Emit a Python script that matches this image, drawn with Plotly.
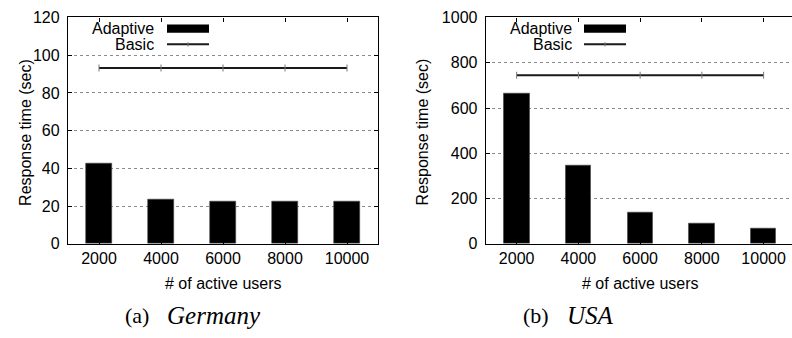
import plotly.graph_objects as go

# Response time measurements per number of active users
users = ["2000", "4000", "6000", "8000", "10000"]
germany_adaptive = [42.4, 23.7, 22.5, 22.5, 22.5]
germany_basic = [93.2, 93.2, 93.2, 93.2, 93.2]
usa_adaptive = [663, 348, 140, 88, 69]
usa_basic = [745, 745, 745, 745, 745]
germany_yticks = [0, 20, 40, 60, 80, 100, 120]
usa_yticks = [0, 200, 400, 600, 800, 1000]

W, H = 792, 338
SANS = "Liberation Sans, Arial, Helvetica, sans-serif"
SERIF = "Liberation Serif, Times New Roman, serif"


def px(x):
    """Horizontal pixel position -> paper fraction."""
    return x / W


def py(y):
    """Vertical pixel position (from top) -> paper fraction."""
    return 1 - y / H


fig = go.Figure()

panels = [
    dict(xa="x", ya="y", adaptive=germany_adaptive, basic=germany_basic),
    dict(xa="x2", ya="y2", adaptive=usa_adaptive, basic=usa_basic),
]
for p in panels:
    fig.add_trace(go.Bar(
        x=users, y=p["adaptive"], xaxis=p["xa"], yaxis=p["ya"], name="Adaptive",
        width=0.41, marker=dict(color="black", line=dict(color="#444", width=0.6)),
        showlegend=False, hoverinfo="x+y",
    ))
    fig.add_trace(go.Scatter(
        x=users, y=p["basic"], xaxis=p["xa"], yaxis=p["ya"], name="Basic",
        mode="lines+markers",
        line=dict(color="#1a1a1a", width=2),
        marker=dict(symbol="line-ns", size=5, line=dict(color="#777", width=1)),
        showlegend=False,
    ))

axis_common = dict(
    showline=True, linecolor="black", linewidth=1.3,
    ticks="inside", ticklen=4, tickcolor="black", tickwidth=1,
    tickfont=dict(family=SANS, size=16, color="black"),
    zeroline=False,
)
grid = dict(showgrid=True, gridcolor="#8a8a8a", griddash="dot", gridwidth=1)

ybot, ytop = 248.3, 10
fig.update_layout(
    width=W, height=H,
    margin=dict(l=0, r=0, t=0, b=0),
    paper_bgcolor="white", plot_bgcolor="white",
    bargap=0,
    xaxis=dict(axis_common, domain=[px(68), px(378)], type="category",
               range=[-0.5, 4.5], mirror="ticks", showgrid=False,
               anchor="y", ticklabelstandoff=0),
    yaxis=dict(axis_common, **grid, domain=[py(ybot), py(ytop)], range=[0, 120],
               tickvals=germany_yticks, mirror="ticks", anchor="x",
               ticklabelstandoff=4),
    xaxis2=dict(axis_common, domain=[px(485.8), 1.0], type="category",
                range=[-0.5, 4.46], mirror="ticks", showgrid=False,
                anchor="y2", ticklabelstandoff=0),
    yaxis2=dict(axis_common, **grid, domain=[py(ybot), py(ytop)], range=[0, 1000],
                tickvals=usa_yticks, mirror=False, anchor="x2",
                ticklabelstandoff=4),
)

annotations = []
shapes = []

for xcenter, ytitle_x, leg_text_x, key_x0, key_x1, cap in [
    (223, 25.5, 156, 167, 209, ("(a)", 123, "Germany", 165)),
    (640, 422, 574, 584, 626, ("(b)", 521, "USA", 565)),
]:
    # Axis titles
    annotations.append(dict(
        text="# of active users", x=px(xcenter), y=py(290), xref="paper", yref="paper",
        showarrow=False, xanchor="center", yanchor="middle",
        font=dict(family=SANS, size=16, color="black")))
    annotations.append(dict(
        text="Response time (sec)", x=px(ytitle_x), y=py(131), xref="paper", yref="paper",
        showarrow=False, xanchor="center", yanchor="middle", textangle=-90,
        font=dict(family=SANS, size=16, color="black")))
    # Legend: label on the left, key on the right
    annotations.append(dict(
        text="Adaptive", x=px(leg_text_x), y=py(21.5), xref="paper", yref="paper",
        showarrow=False, xanchor="right", yanchor="middle",
        font=dict(family=SANS, size=16, color="black")))
    annotations.append(dict(
        text="Basic", x=px(leg_text_x), y=py(38), xref="paper", yref="paper",
        showarrow=False, xanchor="right", yanchor="middle",
        font=dict(family=SANS, size=16, color="black")))
    shapes.append(dict(
        type="rect", xref="paper", yref="paper",
        x0=px(key_x0), x1=px(key_x1), y0=py(17.3), y1=py(26),
        fillcolor="black", line=dict(color="black", width=0)))
    shapes.append(dict(
        type="line", xref="paper", yref="paper",
        x0=px(key_x0), x1=px(key_x1), y0=py(38.3), y1=py(38.3),
        line=dict(color="#1a1a1a", width=2)))
    shapes.append(dict(
        type="line", xref="paper", yref="paper",
        x0=px((key_x0 + key_x1) / 2), x1=px((key_x0 + key_x1) / 2),
        y0=py(36), y1=py(40.6), line=dict(color="#777", width=1)))
    # Sub-figure caption
    label, lx, name, nx = cap
    annotations.append(dict(
        text=label, x=px(lx), y=py(324), xref="paper", yref="paper",
        showarrow=False, xanchor="left", yanchor="middle",
        font=dict(family=SERIF, size=22, color="black")))
    annotations.append(dict(
        text="<i>" + name + "</i>", x=px(nx), y=py(324), xref="paper", yref="paper",
        showarrow=False, xanchor="left", yanchor="middle",
        font=dict(family=SERIF, size=25, color="black")))

fig.update_layout(annotations=annotations, shapes=shapes)
fig.write_html("out.html")
